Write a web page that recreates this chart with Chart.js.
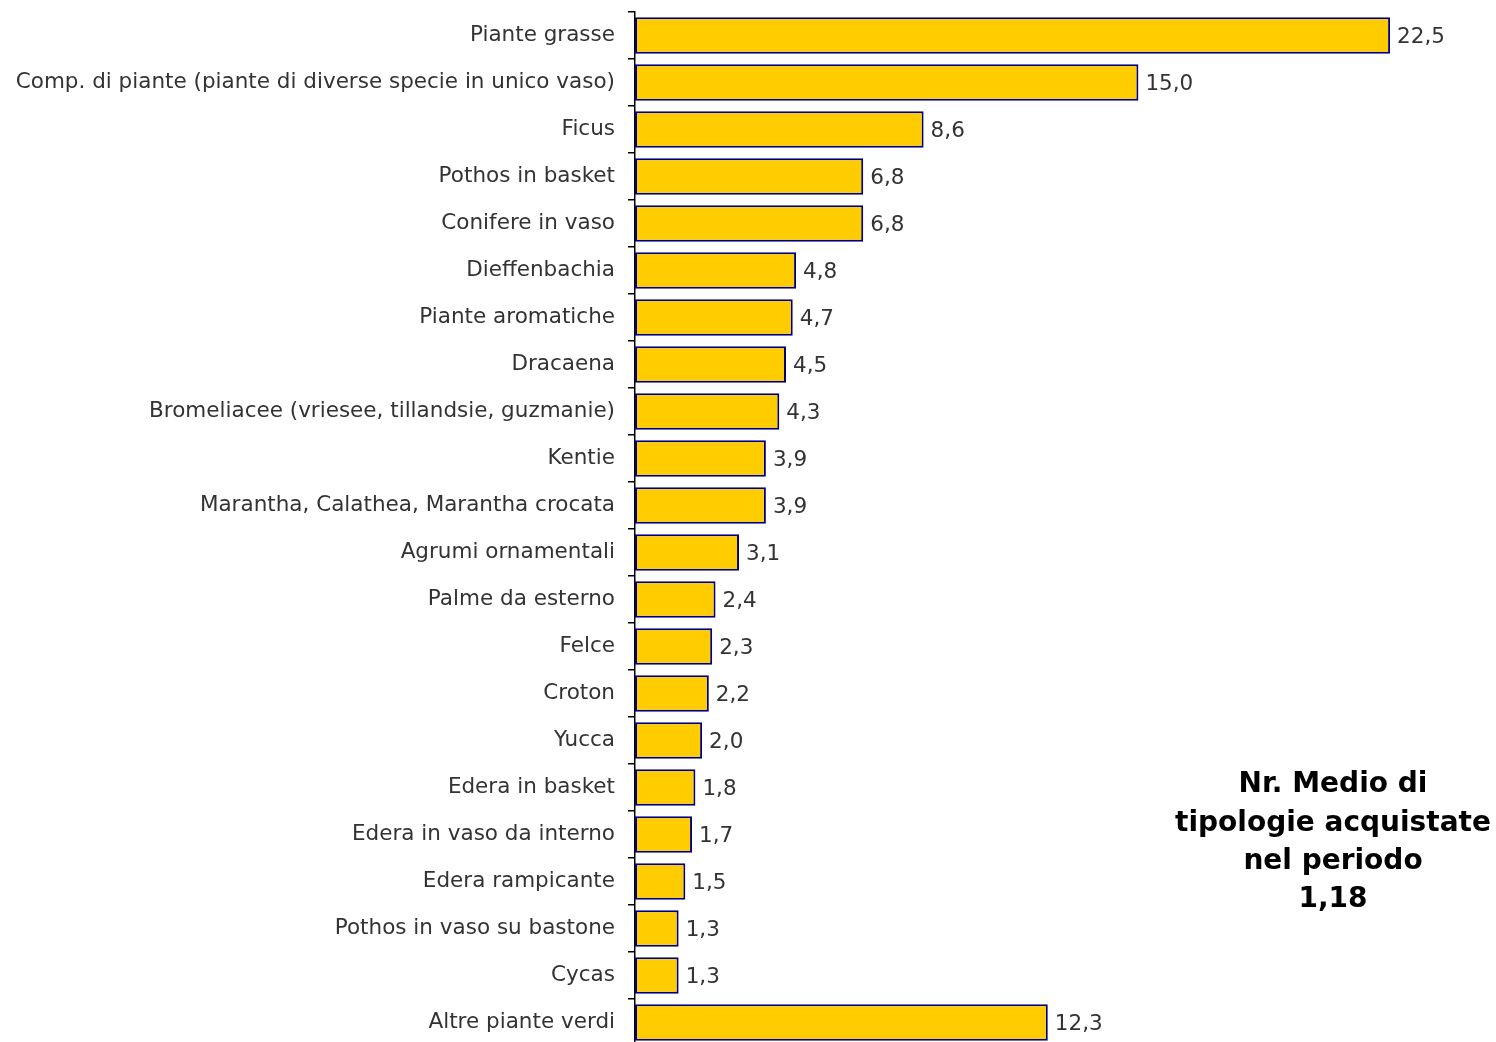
<!DOCTYPE html>
<html>
<head>
<meta charset="utf-8">
<script src="https://cdn.jsdelivr.net/npm/chart.js@4.4.1/dist/chart.umd.min.js"></script>
<style>
  html, body { margin: 0; padding: 0; background: #fff; overflow: hidden; }
</style>
</head>
<body>
<canvas id="myChart" width="1496" height="1046"></canvas>
<script>
// categories and values (percent)
const categories = [
    "Piante grasse",
    "Comp. di piante (piante di diverse specie in unico vaso)",
    "Ficus",
    "Pothos in basket",
    "Conifere in vaso",
    "Dieffenbachia",
    "Piante aromatiche",
    "Dracaena",
    "Bromeliacee (vriesee, tillandsie, guzmanie)",
    "Kentie",
    "Marantha, Calathea, Marantha crocata",
    "Agrumi ornamentali",
    "Palme da esterno",
    "Felce",
    "Croton",
    "Yucca",
    "Edera in basket",
    "Edera in vaso da interno",
    "Edera rampicante",
    "Pothos in vaso su bastone",
    "Cycas",
    "Altre piante verdi"
];
const values = [22.5, 15.0, 8.6, 6.8, 6.8, 4.8, 4.7, 4.5, 4.3, 3.9, 3.9, 3.1, 2.4, 2.3, 2.2, 2.0, 1.8, 1.7, 1.5, 1.3, 1.3, 12.3];

// side note text
const noteLines = ["Nr. Medio di", "tipologie acquistate", "nel periodo", "1,18"];

const fontFamily = "'DejaVu Sans', Verdana, sans-serif";

// draws the value next to each bar
const valueLabels = {
    id: 'valueLabels',
    afterDatasetsDraw(chart) {
        const ctx = chart.ctx;
        const meta = chart.getDatasetMeta(0);
        ctx.save();
        ctx.font = "21.5px " + fontFamily;
        ctx.fillStyle = "#333333";
        ctx.textAlign = "left";
        ctx.textBaseline = "middle";
        meta.data.forEach((bar, i) => {
            const txt = values[i].toFixed(1).replace('.', ',');
            ctx.fillText(txt, bar.x + 7, bar.y + 2);
        });
        ctx.restore();
    }
};

// draws the bold note on the right
const sideNote = {
    id: 'sideNote',
    afterDraw(chart) {
        const ctx = chart.ctx;
        ctx.save();
        ctx.font = "bold 28px " + fontFamily;
        ctx.fillStyle = "#000000";
        ctx.textAlign = "center";
        ctx.textBaseline = "middle";
        noteLines.forEach((line, i) => {
            ctx.fillText(line, 1333, 785 + i * 38.3);
        });
        ctx.restore();
    }
};

const ctx = document.getElementById('myChart').getContext('2d');
const chart = new Chart(ctx, {
    type: 'bar',
    data: {
        labels: categories,
        datasets: [{
            data: values,
            backgroundColor: '#FFCC00',
            borderColor: '#000080',
            borderWidth: 2,
            borderSkipped: false,
            categoryPercentage: 1.0,
            barPercentage: 0.78
        }]
    },
    options: {
        indexAxis: 'y',
        responsive: false,
        animation: false,
        layout: {
            padding: { top: 12, right: 22, bottom: 0, left: 0 }
        },
        scales: {
            x: {
                display: false,
                min: 0,
                max: 25
            },
            y: {
                afterFit: (scale) => {
                    scale.width = 635;
                    scale.paddingTop = 0;
                    scale.paddingBottom = 0;
                },
                border: { display: true, color: '#000000', width: 1.5 },
                grid: {
                    drawOnChartArea: false,
                    drawTicks: true,
                    tickLength: 7,
                    lineWidth: 1.5,
                    color: '#000000',
                    offset: true
                },
                ticks: {
                    color: '#333333',
                    padding: 13,
                    font: { family: fontFamily, size: 21.5 }
                }
            }
        },
        plugins: {
            legend: { display: false },
            tooltip: { enabled: false }
        }
    },
    plugins: [valueLabels, sideNote]
});
</script>
</body>
</html>
